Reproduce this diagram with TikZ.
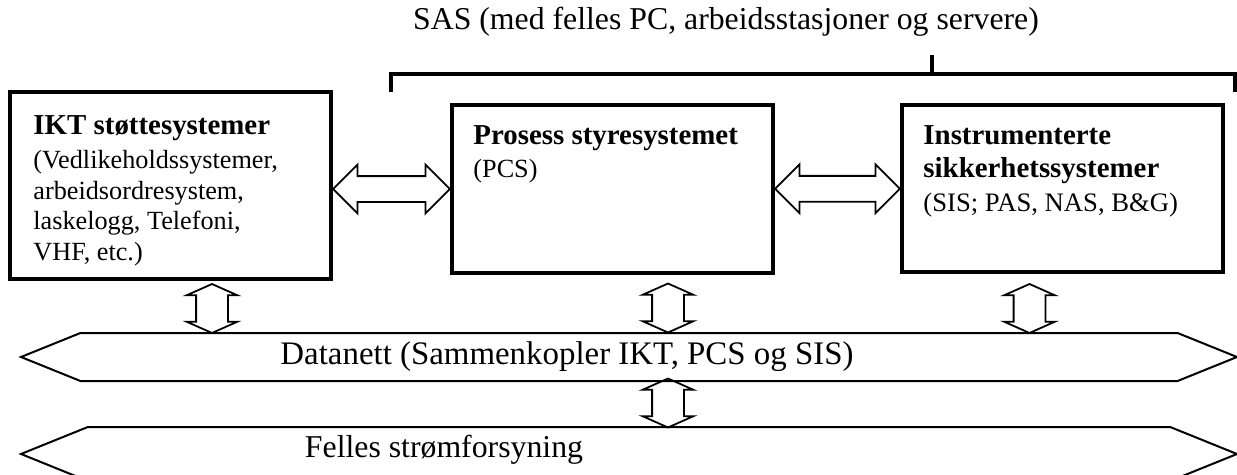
\documentclass[tikz,border=0pt]{standalone}
\usepackage{fontspec}
\setmainfont{Liberation Serif}
\usetikzlibrary{shapes.arrows,shapes.symbols,calc}
\newcommand\pxu{0.45pt}

\tikzset{
  sysbox/.style={draw, line width=1.9pt, inner sep=0pt},
  boxtext/.style={anchor=north west, inner sep=0pt, align=left,
    font=\fontsize{11.8}{13.8}\selectfont},
  hdbl/.style={draw, line width=0.8pt, double arrow, double arrow tip angle=90,
    double arrow head extend=11.5*\pxu, inner xsep=0pt, inner ysep=12*\pxu},
  vdbl/.style={draw, line width=0.8pt, double arrow, double arrow tip angle=132,
    double arrow head extend=9.5*\pxu, inner xsep=0pt, inner ysep=15*\pxu,
    minimum height=49*\pxu, rotate=90},
  banner/.style={draw, line width=0.9pt, signal, signal to=west and east,
    signal pointer angle=44, minimum width=1216*\pxu, inner sep=0pt},
  bigtext/.style={font=\fontsize{14.3}{17}\selectfont, inner sep=0pt}
}

\begin{document}
\begin{tikzpicture}[x=0.45pt,y=-0.45pt]
\useasboundingbox (0,0) rectangle (1237,475);

\node[bigtext] (sas) at (726,22) {SAS (med felles PC, arbeidsstasjoner og servere)};
\draw[line width=1.8pt] (391,92) |- (1235,74) -- (1235,92);
\draw[line width=1.8pt] (932,74) -- (932,55);

\node[sysbox, minimum width=321*\pxu, minimum height=187*\pxu] (ikt) at (170.5,185.5) {};
\node[sysbox, minimum width=321*\pxu, minimum height=168*\pxu] (pcs) at (612.5,189) {};
\node[sysbox, minimum width=321*\pxu, minimum height=167*\pxu] (sis) at (1062.5,188.5) {};

\node[boxtext] (iktlbl) at (33,115) {{\fontsize{13}{15}\selectfont\bfseries IKT støttesystemer}\\[1.6pt]
  (Vedlikeholdssystemer,\\arbeidsordresystem,\\laskelogg, Telefoni,\\VHF, etc.)};
\node[boxtext, font=\fontsize{11.8}{15}\selectfont] (pcslbl) at (473,125) {{\fontsize{13}{15}\selectfont\bfseries Prosess styresystemet}\\
  (PCS)};
\node[boxtext, font=\fontsize{12}{15}\selectfont] (sislbl) at (923,125) {{\fontsize{13}{15}\selectfont\bfseries Instrumenterte}\\
  {\fontsize{13}{15}\selectfont\bfseries sikkerhetssystemer}\\(SIS; PAS, NAS, B\&G)};

\path let \p1=(ikt.east |- pcs.west), \p2=(pcs.west), \n1={\x2-\x1} in
  node[hdbl, minimum height=\n1] (ikt2pcs) at ($(\p1)!0.5!(\p2)$) {};
\path let \p1=(pcs.east), \p2=(sis.west), \n1={\x2-\x1} in
  node[hdbl, minimum height=\n1] (pcs2sis) at ($(\p1)!0.5!(\p2)$) {};

\node[banner, minimum height=48*\pxu] (net) at (629,357) {};
\node[bigtext, font=\fontsize{14.8}{17}\selectfont] (netlbl) at (567,357) {Datanett (Sammenkopler IKT, PCS og SIS)};
\node[banner, minimum height=54*\pxu] (power) at (629,454) {};
\node[bigtext, anchor=base] (powerlbl) at (444,457) {Felles strømforsyning};

\node[vdbl] (ikt2net) at (212,308.5) {};
\node[vdbl] (pcs2net) at (668,308) {};
\node[vdbl] (sis2net) at (1029.5,308.5) {};
\node[vdbl] (net2power) at (668,403) {};
\end{tikzpicture}
\end{document}
